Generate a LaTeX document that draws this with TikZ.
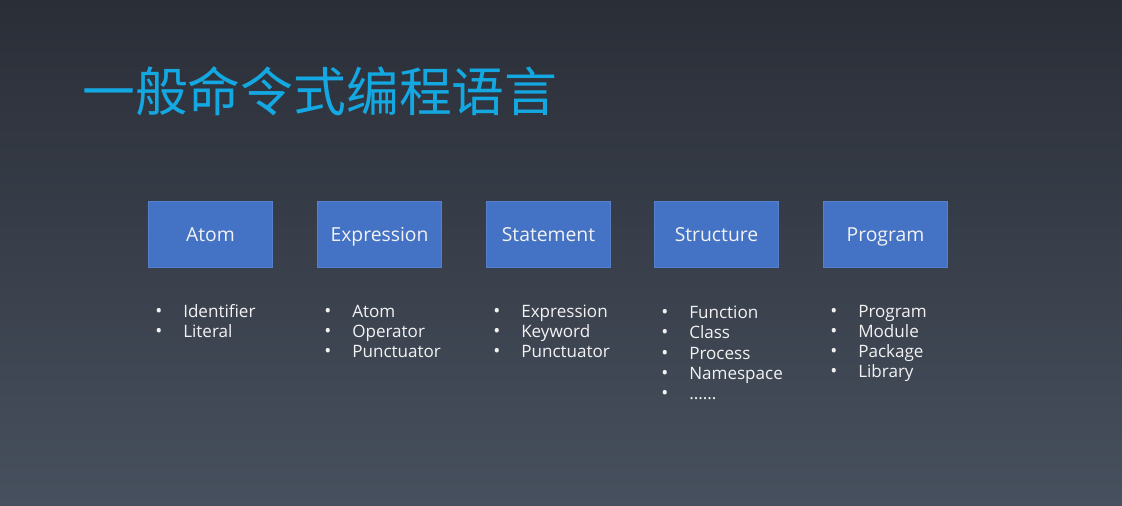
\documentclass[tikz,border=0pt]{standalone}
\usepackage{fontspec}
\setmainfont{Open Sans}
\newfontfamily\cjk{Noto Sans CJK SC}
\definecolor{bgtop}{HTML}{2A2E37}
\definecolor{bgbot}{HTML}{47505E}
\definecolor{boxblue}{HTML}{4472C4}
\definecolor{boxedge}{HTML}{5580CC}
\definecolor{titleblue}{HTML}{14A8E2}
\definecolor{lighttext}{HTML}{F2F2F2}
\newcommand\moredots{......}
\tikzset{
  stage/.style={draw=boxedge,fill=boxblue,line width=0.75pt,inner sep=0pt,
    minimum width=93pt,minimum height=50pt,text=lighttext,
    text height=13pt,text depth=2.2pt,
    font=\fontsize{14.5}{17}\selectfont},
  dot/.style={anchor=base,text=lighttext,inner sep=0pt,font=\fontsize{14}{16}\selectfont},
  item/.style={anchor=base west,text=lighttext,inner sep=0pt,
    font=\fontsize{12.8}{15}\selectfont}
}
\begin{document}
\begin{tikzpicture}[x=0.75pt,y=-0.75pt]
\shade[top color=bgtop,bottom color=bgbot] (0,0) rectangle (1122,506);
\useasboundingbox (0,0) rectangle (1122,506);
% title
\node[anchor=west,inner sep=0pt,text=titleblue,font=\cjk\fontsize{39.6}{44}\selectfont]
  (title) at (82,91) {一般命令式编程语言};
% stages
\node[stage] (atom) at (210.5,234.5) {Atom};
\node[stage] (expr) at (379.5,234.5) {Expression};
\node[stage] (stmt) at (548.5,234.5) {Statement};
\node[stage] (struct) at (716.5,234.5) {Structure};
\node[stage] (prog) at (885.5,234.5) {Program};
% lists below the stages
\foreach \s/\y/\items in {atom/317/{Identifier,Literal},
    expr/317/{Atom,Operator,Punctuator},
    stmt/317/{Expression,Keyword,Punctuator},
    struct/319/{Function,Class,Process,Namespace,\moredots},
    prog/317/{Program,Module,Package,Library}}
  \foreach \t [count=\i] in \items {
    \node[dot] (\s-b\i) at ([xshift=8.25pt]\s.west |- 0,{\y+20*(\i-1)}) {\textbullet};
    \node[item] (\s-t\i) at ([xshift=26.25pt]\s.west |- 0,{\y+20*(\i-1)}) {\t};
  }
\end{tikzpicture}
\end{document}
